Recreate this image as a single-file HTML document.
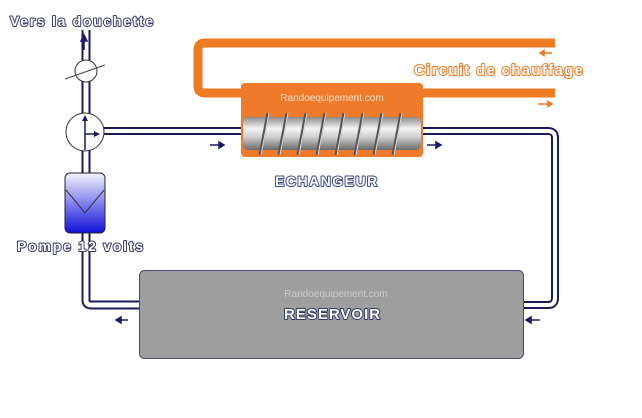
<!DOCTYPE html>
<html><head><meta charset="utf-8"><style>
body{margin:0;background:#fff}
svg{display:block}
.o{font-family:"Liberation Sans",sans-serif;font-weight:bold;fill:#fff;stroke-width:2px;paint-order:stroke fill;stroke-linejoin:round}
</style></head><body>
<svg width="642" height="418" viewBox="0 0 642 418" xmlns="http://www.w3.org/2000/svg">
<defs>
<linearGradient id="cyl" x1="0" y1="0" x2="0" y2="1">
<stop offset="0" stop-color="#8a8a8a"/><stop offset="0.35" stop-color="#f4f4f4"/><stop offset="0.6" stop-color="#d0d0d0"/><stop offset="1" stop-color="#6a6a6a"/></linearGradient>
<linearGradient id="pump" x1="0" y1="0" x2="0" y2="1">
<stop offset="0" stop-color="#f4f4ff"/><stop offset="1" stop-color="#1010d8"/></linearGradient>
</defs>
<path d="M555 43 H205 Q198 43 198 50 V86 Q198 93 205 93 H555" fill="none" stroke="#ee7a22" stroke-width="9"/>
<path d="M552 53 H540 M540 53 l4 -2.5 v5z" stroke="#ee7a22" stroke-width="1.5" fill="#ee7a22"/>
<path d="M538 104 H552 M552 104 l-4 -2.5 v5z" stroke="#ee7a22" stroke-width="1.5" fill="#ee7a22"/>
<text x="414" y="75" class="o" font-size="15" letter-spacing="1.3" stroke="#ee7a22">Circuit de chauffage</text>
<path d="M86 30 V300 Q86 305 91 305 H140" fill="none" stroke="#1a1a5a" stroke-width="9"/>
<path d="M86 30 V300 Q86 305 91 305 H140" fill="none" stroke="#fff" stroke-width="5"/>
<path d="M100 131 H548 Q555 131 555 138 V298 Q555 305 548 305 H523" fill="none" stroke="#1a1a5a" stroke-width="8"/>
<path d="M100 131 H548 Q555 131 555 138 V298 Q555 305 548 305 H523" fill="none" stroke="#fff" stroke-width="4"/>
<rect x="241" y="83" width="182" height="74" rx="4" fill="#ef7a2a"/>
<text x="332" y="101" text-anchor="middle" font-family="Liberation Sans,sans-serif" font-size="10" fill="#fde0c8">Randoequipement.com</text>
<rect x="243" y="117" width="178" height="33" rx="5" fill="url(#cyl)"/>
<g stroke="#555" stroke-width="3" fill="none">
<path d="M260 155 L268 113"/><path d="M279 155 L287 113"/><path d="M298 155 L306 113"/><path d="M317 155 L325 113"/><path d="M336 155 L344 113"/><path d="M355 155 L363 113"/><path d="M374 155 L382 113"/><path d="M393 155 L401 113"/>
</g>
<g stroke="#ddd" stroke-width="1" fill="none">
<path d="M261 155 L269 113"/><path d="M280 155 L288 113"/><path d="M299 155 L307 113"/><path d="M318 155 L326 113"/><path d="M337 155 L345 113"/><path d="M356 155 L364 113"/><path d="M375 155 L383 113"/><path d="M394 155 L402 113"/>
</g>
<text x="275" y="186" class="o" font-size="14" letter-spacing="1.5" stroke="#3a4a8a">ECHANGEUR</text>
<g fill="#1a1a6a" stroke="#1a1a6a" stroke-width="1.5">
<path d="M210 145 H220"/><path d="M224 145 l-5 -3 v6z"/>
<path d="M427 145 H437"/><path d="M441 145 l-5 -3 v6z"/>
<path d="M120 320 H128"/><path d="M116 320 l5 -3 v6z"/>
<path d="M530 320 H540"/><path d="M526 320 l5 -3 v6z"/>
<path d="M84 50 V40"/><path d="M84 35 l-3 6 h6z"/>
</g>
<text x="10" y="26" class="o" font-size="14" letter-spacing="1.7" stroke="#3a3a6a">Vers la douchette</text>
<circle cx="86" cy="71" r="11" fill="#fff" stroke="#333" stroke-width="1"/>
<path d="M65 79 L105 65" stroke="#444" stroke-width="1"/>
<circle cx="85" cy="132" r="19" fill="#fff" stroke="#333" stroke-width="1"/>
<path d="M85 150 V118" stroke="#1a1a5a" stroke-width="1.5"/><path d="M85 115 l-3 6 h6z" fill="#1a1a5a"/>
<path d="M85 134 H96" stroke="#1a1a5a" stroke-width="1.5"/><path d="M100 134 l-6 -3 v6z" fill="#1a1a5a"/>
<rect x="65" y="173" width="40" height="60" rx="5" fill="url(#pump)" stroke="#223" stroke-width="1"/>
<path d="M66 190 L85 213 L104 190" fill="none" stroke="#334" stroke-width="1"/>
<text x="17" y="251" class="o" font-size="14" letter-spacing="1.8" stroke="#3a3a6a">Pompe 12 volts</text>
<rect x="139.5" y="270.5" width="384" height="88" rx="5" fill="#9e9e9e" stroke="#4a4a7a" stroke-width="1"/>
<text x="336" y="297" text-anchor="middle" font-family="Liberation Sans,sans-serif" font-size="10" fill="#c8c8c8">Randoequipement.com</text>
<text x="284" y="319" class="o" font-size="15" letter-spacing="1" stroke="#333a6a">RESERVOIR</text>
</svg>
</body></html>
